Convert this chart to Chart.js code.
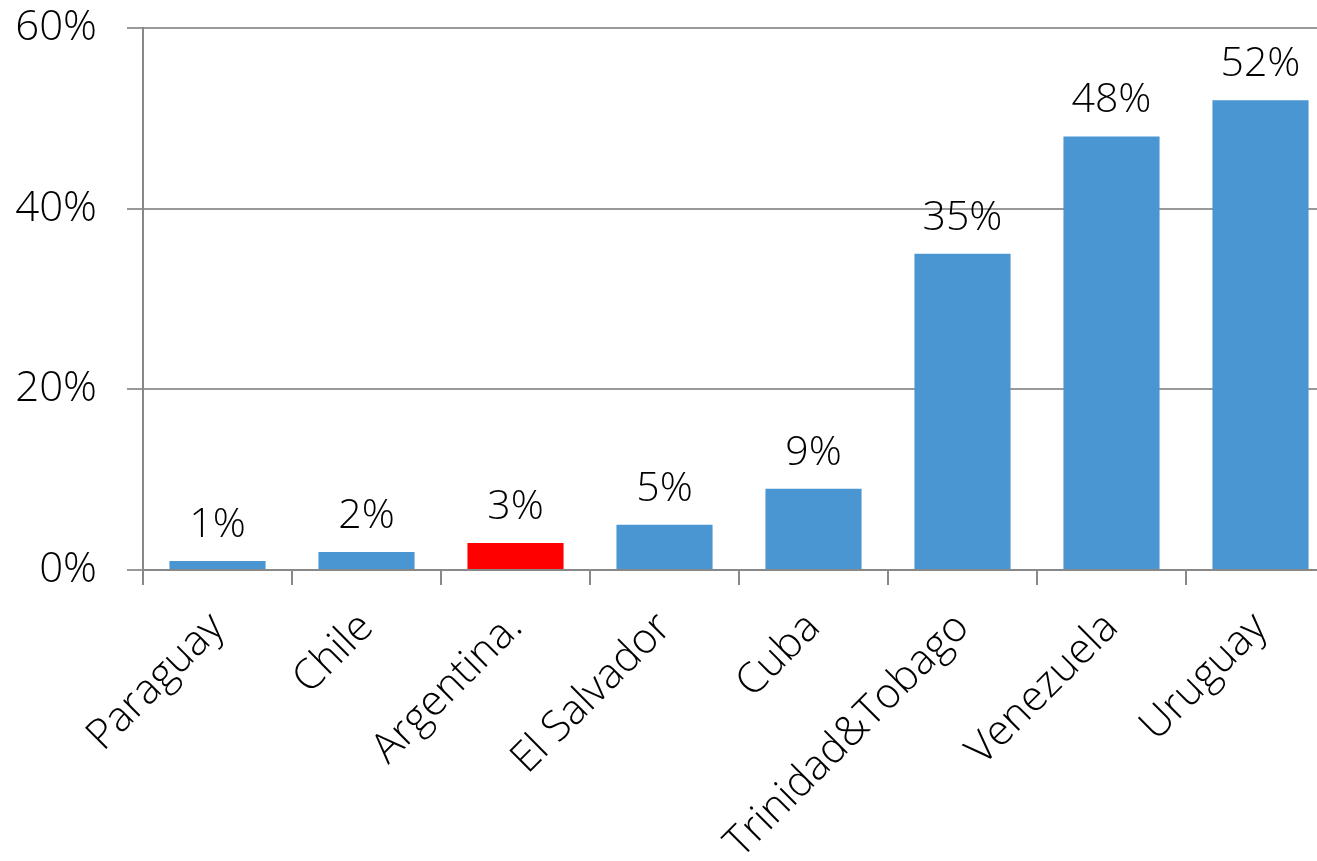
<!DOCTYPE html>
<html>
<head>
<meta charset="utf-8">
<script src="https://cdn.jsdelivr.net/npm/chart.js@4.4.0/dist/chart.umd.min.js"></script>
<style>
  html, body { margin: 0; padding: 0; background: #fff; overflow: hidden; }
  #wrap { width: 1340px; height: 861px; position: relative; }
</style>
</head>
<body>
<div id="wrap"><canvas id="c1"></canvas></div>
<script>
const countries = ['Paraguay', 'Chile', 'Argentina.', 'El Salvador', 'Cuba', 'Trinidad&Tobago', 'Venezuela', 'Uruguay'];
const shares = [1, 2, 3, 5, 9, 35, 48, 52];
const barColors = ['#4a96d2', '#4a96d2', '#ff0000', '#4a96d2', '#4a96d2', '#4a96d2', '#4a96d2', '#4a96d2'];
const yTicks = [0, 20, 40, 60];

const FONT = "'Open Sans', 'Noto Sans', sans-serif";

// labels over the bars
const barLabels = {
    id: 'barLabels',
    afterDatasetsDraw(chart) {
        let ctx = chart.ctx;
        let meta = chart.getDatasetMeta(0);
        ctx.save();
        ctx.font = '300 41px ' + FONT;
        ctx.fillStyle = '#000';
        ctx.textAlign = 'center';
        ctx.textBaseline = 'alphabetic';
        meta.data.forEach((bar, i) => {
            ctx.fillText(shares[i] + '%', bar.x, bar.y - 24);
        });
        ctx.restore();
    }
};

let c1 = document.querySelector('#c1');
let opts1 = {
    type: 'bar',
    data: {
        labels: countries,
        datasets: [
            {
                data: shares,
                backgroundColor: barColors,
                barPercentage: 0.645,
                categoryPercentage: 1,
            }
        ]
    },
    options: {
        responsive: true,
        maintainAspectRatio: false,
        animation: false,
        layout: { padding: { top: 28, right: 5, left: 0, bottom: 0 } },
        plugins: {
            legend: { display: false },
            tooltip: { enabled: false },
        },
        scales: {
            x: {
                grid: {
                    drawOnChartArea: false,
                    color: '#888',
                    lineWidth: 2,
                    tickLength: 15,
                },
                border: { color: '#888', width: 2 },
                ticks: {
                    color: '#000',
                    font: { family: FONT, size: 42, weight: '300' },
                    minRotation: 45,
                    maxRotation: 45,
                    autoSkip: false,
                    padding: 18,
                },
                afterFit: (s) => {
                    s.height = 291;
                    s.paddingLeft = 0;
                    s.paddingRight = 0;
                },
            },
            y: {
                min: 0,
                max: 60,
                afterBuildTicks: (s) => { s.ticks = yTicks.map(v => ({ value: v })); },
                grid: {
                    color: '#999',
                    lineWidth: 2,
                    tickLength: 16,
                },
                border: { color: '#888', width: 2 },
                ticks: {
                    color: '#000',
                    font: { family: FONT, size: 42, weight: '300' },
                    padding: 30,
                    callback: (v) => v + '%',
                },
                afterFit: (s) => {
                    s.width = 143;
                    s.paddingTop = 0;
                    s.paddingBottom = 0;
                },
            }
        }
    },
    plugins: [barLabels]
};
let chart1 = new Chart(c1, opts1);
</script>
</body>
</html>
